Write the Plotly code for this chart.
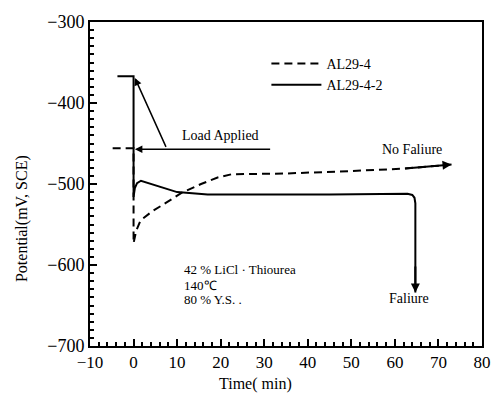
import plotly.graph_objects as go

# AL29-4 (dashed) — no failure
al294_t = [-4.8, 0, 0, 0.6, 1.6, 4.2, 7.5, 11, 15.5, 19.3, 22.5, 35, 50, 62, 73]
al294_v = [-456, -456, -573, -558, -545, -534, -523, -511, -500, -492, -488, -487, -484, -481, -476]

# AL29-4-2 (solid) — failure
al2942_t = [-3.7, 0, 0, 0.3, 0.8, 1.7, 10, 17, 30, 45, 62.9, 64.0, 64.5, 64.7, 64.7]
al2942_v = [-367, -367, -516, -505, -499, -496, -510, -513, -513, -513, -512, -513.5, -517, -524, -634]

x_range = [-10, 80]
x_step = 10
y_range = [-700, -300]
y_step = 100

FONT = "Liberation Serif"
TXT = 14

fig = go.Figure()
fig.add_trace(go.Scatter(x=al294_t, y=al294_v, mode="lines", name="AL29-4",
                         line=dict(color="black", width=2, dash="8px,5px")))
fig.add_trace(go.Scatter(x=al2942_t, y=al2942_v, mode="lines", name="AL29-4-2",
                         line=dict(color="black", width=2)))


def arrow(x, y, ax, ay, w=1.5, size=1.0):
    return dict(x=x, y=y, ax=ax, ay=ay, axref="x", ayref="y", xref="x", yref="y", text="",
                showarrow=True, arrowhead=2, arrowsize=size, arrowwidth=w, arrowcolor="black")


def label(x, y, text, xanchor="center", size=TXT):
    return dict(x=x, y=y, text=text, showarrow=False, xref="x", yref="y", xanchor=xanchor,
                font=dict(family=FONT, size=size, color="black"))


ann = [
    arrow(0.3, -369, 7.6, -456),
    arrow(0.3, -457, 31.7, -457),
    label(20, -440, "Load Applied"),
    arrow(al294_t[-1], al294_v[-1], al294_t[-2], al294_v[-2], w=2, size=0.9),
    label(64, -457, "No Faliure"),
    arrow(al2942_t[-1], al2942_v[-1], al2942_t[-1], -600, w=2, size=0.9),
    label(63.2, -641, "Faliure"),
    label(11.2, -606, "42 % LiCl · Thiourea", xanchor="left", size=13),
    label(11.2, -625, "140\u2103", xanchor="left", size=13),
    label(11.2, -643, "80 % Y.S. .", xanchor="left", size=13),
    dict(x=0.421, y=-0.117, xref="paper", yref="paper", text="Time( min)", showarrow=False,
         font=dict(family=FONT, size=16, color="black"), xanchor="center", yanchor="middle"),
    dict(x=-0.175, y=0.393, xref="paper", yref="paper", text="Potential(mV, SCE)", showarrow=False,
         textangle=-90, font=dict(family=FONT, size=16, color="black"), xanchor="center", yanchor="middle"),
]

fig.update_layout(
    width=503, height=403,
    margin=dict(l=90, r=14, t=13, b=57),
    paper_bgcolor="white", plot_bgcolor="white",
    font=dict(family=FONT, size=16, color="black"),
    annotations=ann,
    showlegend=True,
    legend=dict(x=0.45, y=0.92, xanchor="left", yanchor="top", bgcolor="rgba(0,0,0,0)",
                font=dict(family=FONT, size=TXT, color="black"), itemwidth=50,
                tracegroupgap=0),
    xaxis=dict(range=x_range, dtick=x_step, tick0=x_range[0],
               ticks="inside", ticklen=7, tickwidth=2, tickcolor="black",
               showline=True, linecolor="black", linewidth=2, mirror=True,
               showgrid=False, zeroline=False,
               minor=dict(ticks="inside", ticklen=4, tickcolor="black", dtick=2),
               tickfont=dict(family=FONT, size=17)),
    yaxis=dict(range=y_range, dtick=y_step, tick0=y_range[0],
               ticks="inside", ticklen=7, tickwidth=2, tickcolor="black",
               showline=True, linecolor="black", linewidth=2, mirror=True,
               showgrid=False, zeroline=False,
               minor=dict(ticks="inside", ticklen=4, tickcolor="black", dtick=10),
               tickfont=dict(family=FONT, size=18)),
)

fig.write_html("out.html")
